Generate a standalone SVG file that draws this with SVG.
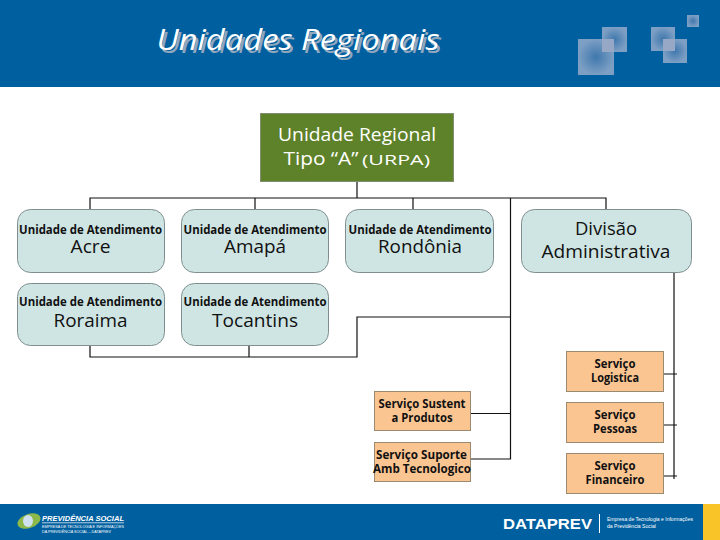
<svg xmlns="http://www.w3.org/2000/svg" width="720" height="540" viewBox="0 0 720 540">
<style>
.t{font-family:"Open Sans","Noto Sans","Liberation Sans",sans-serif;text-anchor:middle}
.big{font-size:18px;fill:#111}
.sm{font-size:12px;font-weight:700;fill:#111}
.svc{font-size:12px;font-weight:700;fill:#111}
.ua{fill:#cfe5e4;stroke:#7f8f8f;stroke-width:1}
.sv{fill:#fbc592;stroke:#9a8a70;stroke-width:1}
.c{fill:none;stroke:#111;stroke-width:1.2}
.w{fill:#fff}
</style>
<defs>
<radialGradient id="sq"><stop offset="0" stop-color="#3f78ad"/><stop offset="1" stop-color="#7d9fc4"/></radialGradient>
<linearGradient id="fade" x1="0" y1="0" x2="0" y2="1"><stop offset="0" stop-color="#fff"/><stop offset="1" stop-color="#eef4f6"/></linearGradient>
</defs>
<rect width="720" height="540" fill="#fff"/>
<rect width="720" height="87" fill="#00609f"/>
<rect y="504" width="720" height="36" fill="#00609f"/>
<rect x="703" y="504" width="17" height="36" fill="#f8c428"/>
<g id="title">
<text x="299" y="51" class="t" font-size="30" font-style="italic" fill="#8fa6bd" dx="1.5" dy="1.5" textLength="283" lengthAdjust="spacingAndGlyphs">Unidades Regionais</text>
<text x="298" y="50" class="t w" font-size="30" font-style="italic" textLength="283" lengthAdjust="spacingAndGlyphs">Unidades Regionais</text>
</g>
<g id="squares">
<rect x="602" y="27" width="25" height="25" fill="url(#sq)"/>
<rect x="578" y="39" width="36" height="36" fill="url(#sq)"/>
<rect x="602" y="39" width="12" height="13" fill="#96a8c6"/>
<rect x="651" y="27" width="24" height="24" fill="url(#sq)"/>
<rect x="663" y="39" width="24" height="24" fill="url(#sq)"/>
<rect x="663" y="39" width="12" height="12" fill="#96a8c6"/>
<rect x="687" y="15" width="12" height="12" fill="url(#sq)"/>
</g>
<g id="connectors">
<path class="c" d="M357 181V198M90 209V198H606V209M255 198V209M413 198V209"/>
<path class="c" d="M510.500 198V459H470M510.500 413.500H470M510.500 317H357V357H90V346M249 346V357"/>
<path class="c" d="M674 272V479M662 374H677M662 425H677M662 476H677"/>
</g>
<g id="n-regional">
<rect x="260.500" y="113.500" width="193" height="68" fill="#5e8229" stroke="#7f8f70"/>
<text x="357" y="141" class="t w" font-size="18" textLength="158" lengthAdjust="spacingAndGlyphs">Unidade Regional</text>
<text x="321" y="165" class="t w" font-size="18" textLength="75" lengthAdjust="spacingAndGlyphs">Tipo “A”</text>
<text x="396" y="165" class="t w" font-size="14" textLength="68" lengthAdjust="spacingAndGlyphs">(URPA)</text>
</g>
<g id="n-acre">
<rect class="ua" x="17.500" y="209.500" width="147" height="63" rx="13"/>
<text x="90.500" y="234" class="t sm" textLength="143" lengthAdjust="spacingAndGlyphs">Unidade de Atendimento</text>
<text x="90.500" y="253" class="t big" textLength="40" lengthAdjust="spacingAndGlyphs">Acre</text>
</g>
<g id="n-amapa">
<rect class="ua" x="181.500" y="209.500" width="147" height="63" rx="13"/>
<text x="255" y="234" class="t sm" textLength="143" lengthAdjust="spacingAndGlyphs">Unidade de Atendimento</text>
<text x="255" y="253" class="t big" textLength="62" lengthAdjust="spacingAndGlyphs">Amapá</text>
</g>
<g id="n-rondonia">
<rect class="ua" x="345.500" y="209.500" width="148" height="63" rx="13"/>
<text x="420" y="234" class="t sm" textLength="143" lengthAdjust="spacingAndGlyphs">Unidade de Atendimento</text>
<text x="420" y="253" class="t big" textLength="84" lengthAdjust="spacingAndGlyphs">Rondônia</text>
</g>
<g id="n-divisao">
<rect class="ua" x="521.500" y="209.500" width="170" height="63" rx="13"/>
<text x="606" y="235" class="t big" textLength="62" lengthAdjust="spacingAndGlyphs">Divisão</text>
<text x="606" y="258" class="t big" textLength="129" lengthAdjust="spacingAndGlyphs">Administrativa</text>
</g>
<g id="n-roraima">
<rect class="ua" x="17.500" y="283.500" width="147" height="62" rx="13"/>
<text x="90.500" y="306" class="t sm" textLength="143" lengthAdjust="spacingAndGlyphs">Unidade de Atendimento</text>
<text x="90.500" y="327" class="t big" textLength="74" lengthAdjust="spacingAndGlyphs">Roraima</text>
</g>
<g id="n-tocantins">
<rect class="ua" x="181.500" y="283.500" width="147" height="62" rx="13"/>
<text x="255" y="306" class="t sm" textLength="143" lengthAdjust="spacingAndGlyphs">Unidade de Atendimento</text>
<text x="255" y="327" class="t big" textLength="86" lengthAdjust="spacingAndGlyphs">Tocantins</text>
</g>
<g id="n-logistica">
<rect class="sv" x="566.500" y="351.500" width="97" height="40"/>
<text x="615" y="368" class="t svc" textLength="41" lengthAdjust="spacingAndGlyphs">Serviço</text>
<text x="615" y="382" class="t svc" textLength="48" lengthAdjust="spacingAndGlyphs">Logistica</text>
</g>
<g id="n-pessoas">
<rect class="sv" x="566.500" y="402.500" width="97" height="40"/>
<text x="615" y="419" class="t svc" textLength="41" lengthAdjust="spacingAndGlyphs">Serviço</text>
<text x="615" y="433" class="t svc" textLength="44" lengthAdjust="spacingAndGlyphs">Pessoas</text>
</g>
<g id="n-financeiro">
<rect class="sv" x="566.500" y="453.500" width="97" height="40"/>
<text x="615" y="470" class="t svc" textLength="41" lengthAdjust="spacingAndGlyphs">Serviço</text>
<text x="615" y="484" class="t svc" textLength="59" lengthAdjust="spacingAndGlyphs">Financeiro</text>
</g>
<g id="n-sustent">
<rect class="sv" x="374.500" y="391.500" width="96" height="39"/>
<text x="422" y="408" class="t svc" textLength="87" lengthAdjust="spacingAndGlyphs">Serviço Sustent</text>
<text x="422" y="422" class="t svc" textLength="61" lengthAdjust="spacingAndGlyphs">a Produtos</text>
</g>
<g id="n-suporte">
<rect class="sv" x="374.500" y="442.500" width="96" height="39"/>
<text x="421.500" y="459" class="t svc" textLength="91" lengthAdjust="spacingAndGlyphs">Serviço Suporte</text>
<text x="422" y="473" class="t svc" textLength="98" lengthAdjust="spacingAndGlyphs">Amb Tecnologico</text>
</g>
<g id="logo-previdencia">
<ellipse cx="29" cy="521" rx="12" ry="7" fill="#8db84a" transform="rotate(-20 29 521)"/>
<ellipse cx="28" cy="521" rx="5" ry="6" fill="#cfe0ee"/>
<text x="42" y="521" font-family="Liberation Sans,sans-serif" font-size="7.500" font-weight="700" font-style="italic" class="w" textLength="82" lengthAdjust="spacingAndGlyphs">PREVIDÊNCIA SOCIAL</text>
<rect x="42" y="522.500" width="82" height="0.700" fill="#fff"/>
<text x="42" y="528" font-family="Liberation Sans,sans-serif" font-size="4" class="w" textLength="82" lengthAdjust="spacingAndGlyphs">EMPRESA DE TECNOLOGIA E INFORMAÇÕES</text>
<text x="42" y="533" font-family="Liberation Sans,sans-serif" font-size="4" class="w" textLength="69" lengthAdjust="spacingAndGlyphs">DA PREVIDÊNCIA SOCIAL – DATAPREV</text>
</g>
<g id="logo-dataprev">
<text x="503" y="529" font-family="Liberation Sans,sans-serif" font-size="15" font-weight="700" class="w" textLength="89" lengthAdjust="spacingAndGlyphs">DATAPREV</text>
<rect x="599" y="514" width="1" height="19" fill="#fff"/>
<text x="607" y="521" font-family="Liberation Sans,sans-serif" font-size="6" class="w" textLength="86" lengthAdjust="spacingAndGlyphs">Empresa de Tecnologia e Informações</text>
<text x="607" y="528" font-family="Liberation Sans,sans-serif" font-size="6" class="w" textLength="49" lengthAdjust="spacingAndGlyphs">da Previdência Social</text>
</g>
</svg>
